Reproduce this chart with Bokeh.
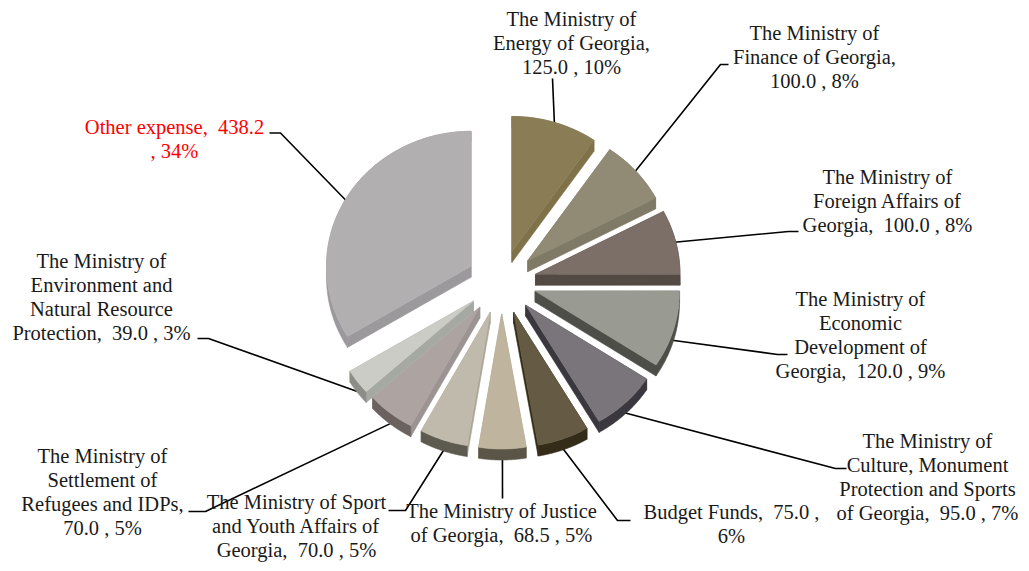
import numpy as np
from bokeh.core.properties import value
from bokeh.embed import file_html
from bokeh.models import ColumnDataSource
from bokeh.plotting import figure
from bokeh.resources import INLINE

# Budget items, clockwise from twelve o'clock
amounts = [125.0, 100.0, 100.0, 120.0, 95.0, 75.0, 68.5, 70.0, 70.0, 39.0, 438.2]

# Wrapped label text; {v} is replaced by "amount , share%"
GAP = "\u00a0\u00a0"
label_lines = [
    ["The Ministry of", "Energy of Georgia,", "{v}"],
    ["The Ministry of", "Finance of Georgia,", "{v}"],
    ["The Ministry of", "Foreign Affairs of", "Georgia," + GAP + "{v}"],
    ["The Ministry of", "Economic", "Development of", "Georgia," + GAP + "{v}"],
    ["The Ministry of", "Culture, Monument", "Protection and Sports", "of Georgia," + GAP + "{v}"],
    ["Budget Funds," + GAP + "{a} ,", "{p}"],
    ["The Ministry of Justice", "of Georgia," + GAP + "{v}"],
    ["The Ministry of Sport", "and Youth Affairs of", "Georgia," + GAP + "{v}"],
    ["The Ministry of", "Settlement of", "Refugees and IDPs,", "{v}"],
    ["The Ministry of", "Environment and", "Natural Resource", "Protection," + GAP + "{v}"],
    ["Other expense," + GAP + "{a}", ", {p}"],
]
label_x = [571, 814, 887, 860, 927, 731, 501, 296, 102, 101, 174]
label_y = [18, 32, 176, 298, 440, 511, 510, 501, 455, 260, 126]
label_colors = ["#1a1a1a"] * 10 + ["#ff0000"]

# Slice colours: top face, outer rim, cut faces
top_colors = ["#8a7d56", "#918a74", "#7b6f68", "#999a91", "#7a757a", "#655a44",
              "#bfb49d", "#bfbaab", "#ada3a0", "#ccccc6", "#b2afb1"]
rim_colors = ["#7f7248", "#7f7a66", "#544a44", "#4d4e48", "#3a383e", "#342c18",
              "#5b5548", "#5d5a50", "#6b625f", "#8d8d87", "#9b999b"]
cut_colors = ["#7f7248", "#7f7a66", "#544a44", "#4d4e48", "#3a383e", "#342c18",
              "#a59c88", "#a9a597", "#9c9492", "#a6a8a2", "#9b999b"]

# Leader line waypoints after the point where each line leaves its slice
leader_paths = [
    [(552, 78)],
    [(720, 64), (728, 64)],
    [(788, 231), (798, 231)],
    [(777, 354), (787, 354)],
    [(835, 468), (846, 468)],
    [(617, 520), (630, 520)],
    [(502, 498)],
    [(405, 510), (388, 510)],
    [(205, 511), (188, 511)],
    [(208, 338), (197, 338)],
    [(280, 132.5), (269, 132.5)],
]

CX, CY = 501.0, 281.5
RX, RY = 144.5, 135.0
EXPLODE_X, EXPLODE_Y = 35.0, 32.0
DEPTH = 11.0
DRAW_ORDER = [10, 0, 1, 2, 3, 4, 5, 6, 7, 8, 9]

total = sum(amounts)
edges = np.concatenate([[0.0], np.cumsum(amounts)]) / total * 2 * np.pi

p = figure(width=1029, height=571, x_range=(0, 1029), y_range=(571, 0),
           output_backend="svg", toolbar_location=None, min_border=0)
p.axis.visible = False
p.grid.visible = False
p.outline_line_color = None
p.background_fill_color = "#ffffff"

apexes = []
for i in range(len(amounts)):
    mid = (edges[i] + edges[i + 1]) / 2
    apexes.append((CX + EXPLODE_X * np.sin(mid), CY - EXPLODE_Y * np.cos(mid)))

# Leader lines sit underneath the slices and start at each slice's mid-angle rim
for i, path in enumerate(leader_paths):
    mid = (edges[i] + edges[i + 1]) / 2
    ax, ay = apexes[i]
    sx = ax + RX * np.sin(mid) * 0.99
    sy = ay - RY * np.cos(mid) * 0.99 + (DEPTH if np.cos(mid) < 0 else 0)
    xs = [sx] + [q[0] for q in path]
    ys = [sy] + [q[1] for q in path]
    p.line(xs, ys, line_color="#000000", line_width=1.6)

# Extruded slices, each built from its angular span
px, py, fills = [], [], []
def add(xs, ys, color):
    px.append(list(xs))
    py.append(list(ys))
    fills.append(color)

for i in DRAW_ORDER:
    a, b = edges[i], edges[i + 1]
    ax, ay = apexes[i]
    t = np.linspace(a, b, 60)
    rx = ax + RX * np.sin(t)
    ry = ay - RY * np.cos(t)
    for ex, ey in ((rx[0], ry[0]), (rx[-1], ry[-1])):
        add([ax, ex, ex, ax], [ay, ey, ey + DEPTH, ay + DEPTH], cut_colors[i])
    add(np.r_[rx, rx[::-1]], np.r_[ry, ry[::-1] + DEPTH], rim_colors[i])
    add(np.r_[ax, rx], np.r_[ay, ry], top_colors[i])

p.patches(px, py, fill_color=fills, line_color=fills, line_width=0.6)

# Wrapped labels, one text row per line
tx, ty, tt, tc = [], [], [], []
for i, lines in enumerate(label_lines):
    amount = f"{amounts[i]:.1f}"
    share = f"{round(amounts[i] / total * 100)}%"
    for j, line in enumerate(lines):
        tx.append(label_x[i])
        ty.append(label_y[i] + j * 24)
        tt.append(line.format(v=f"{amount} , {share}", a=amount, p=share))
        tc.append(label_colors[i])

p.text(x="x", y="y", text="t", text_color="c",
       source=ColumnDataSource(dict(x=tx, y=ty, t=tt, c=tc)),
       text_font=value("Liberation Serif"), text_font_size="20.5px",
       text_align="center", text_baseline="middle")

open("out.html", "w").write(file_html(p, INLINE))
